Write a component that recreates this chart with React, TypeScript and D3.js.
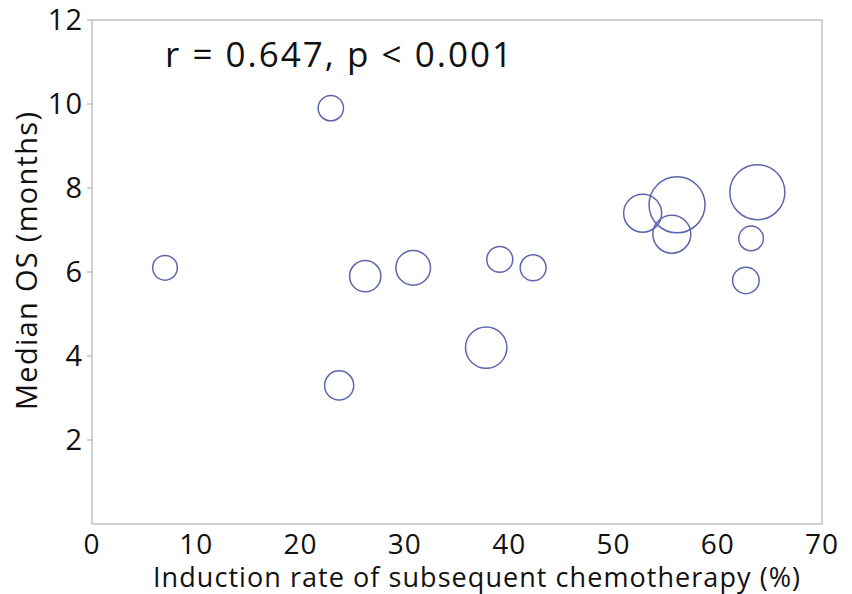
import React from "react";
import * as d3 from "d3";

// induction rate of subsequent chemotherapy (%)
const inductionRate = [7.0, 22.9, 23.7, 26.2, 30.8, 37.8, 39.1, 42.3, 52.8, 56.1, 55.6, 63.8, 63.2, 62.7];
// median overall survival (months)
const medianOS = [6.1, 9.9, 3.3, 5.9, 6.1, 4.2, 6.3, 6.1, 7.4, 7.6, 6.9, 7.9, 6.8, 5.8];
// bubble size (number of patients, estimated)
const sampleSize = [38, 40, 53, 61, 75, 107, 42, 42, 90, 196, 90, 189, 38, 44];

const xTicks = [0, 10, 20, 30, 40, 50, 60, 70];
const yTicks = [2, 4, 6, 8, 10, 12];

const FONT = "'Open Sans', sans-serif";

const App = () => {
  const width = 852;
  const height = 594;
  const left = 92;
  const right = 822;
  const top = 20;
  const bottom = 524;

  const x = d3.scaleLinear().domain([0, 70]).range([left, right]);
  const y = d3.scaleLinear().domain([0, 12]).range([bottom, top]);
  const r = d3.scaleSqrt().domain([0, 200]).range([0, 28.3]);

  const points = inductionRate.map((v, i) => ({ x: v, y: medianOS[i], n: sampleSize[i] }));

  return (
    <svg width={width} height={height} style={{ position: "absolute", left: 0, top: 0, background: "#fff" }}>
      {/* frame */}
      <rect x={left} y={top} width={right - left} height={bottom - top} fill="none" stroke="#b4b4b4" strokeWidth={1.2} />

      {/* y ticks */}
      {yTicks.map((t) => (
        <g key={t} transform={`translate(${left}, ${y(t)})`}>
          <line x1={-5} x2={0} stroke="#b4b4b4" strokeWidth={1.2} />
          <text x={-9} dy="0.36em" textAnchor="end" fontSize={29} letterSpacing={1} fontFamily={FONT} fill="#111">
            {t}
          </text>
        </g>
      ))}

      {/* x tick labels */}
      {xTicks.map((t) => (
        <text key={t} x={x(t)} y={554} textAnchor="middle" fontSize={28} letterSpacing={1} fontFamily={FONT} fill="#111">
          {t}
        </text>
      ))}

      {/* axis titles */}
      <text x={153} y={587} textLength={647} lengthAdjust="spacing" fontSize={27} fontFamily={FONT} fill="#111">
        Induction rate of subsequent chemotherapy (%)
      </text>
      <text
        transform={`translate(37, 410) rotate(-90)`}
        textLength={298}
        lengthAdjust="spacing"
        fontSize={29}
        fontFamily={FONT}
        fill="#111"
      >
        Median OS (months)
      </text>

      {/* annotation */}
      <text x={165} y={67} textLength={347} lengthAdjust="spacing" fontSize={35} fontFamily={FONT} fill="#111">
        r = 0.647, p &lt; 0.001
      </text>

      {/* bubbles */}
      {points.map((p, i) => (
        <circle key={i} cx={x(p.x)} cy={y(p.y)} r={r(p.n)} fill="none" stroke="#5c67ad" strokeWidth={1.5} />
      ))}
    </svg>
  );
};

export default App;
